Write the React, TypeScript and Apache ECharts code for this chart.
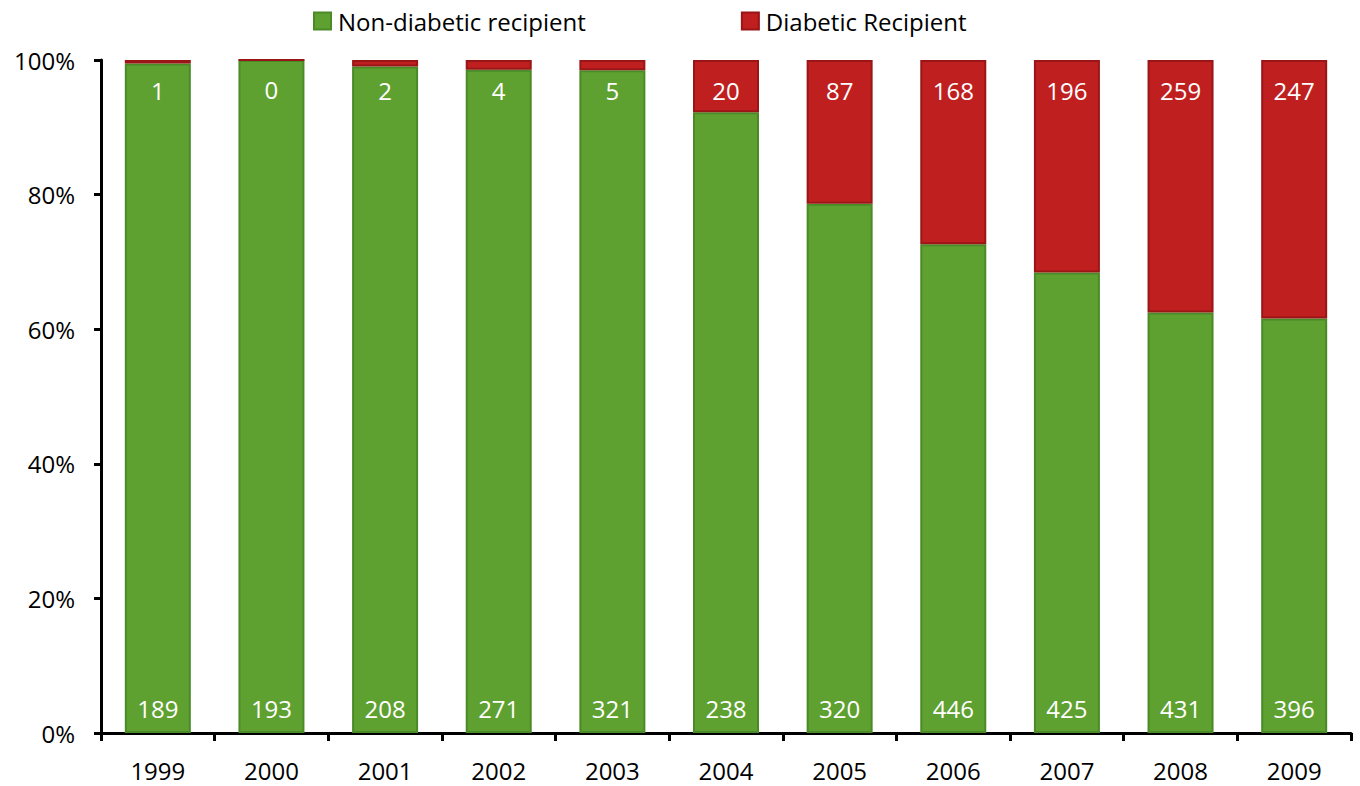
import React, { useEffect, useRef } from "react";
import * as echarts from "echarts";

const years = ["1999", "2000", "2001", "2002", "2003", "2004", "2005", "2006", "2007", "2008", "2009"];
const nonDiabetic = [189, 193, 208, 271, 321, 238, 320, 446, 425, 431, 396];
const diabetic = [1, 0, 2, 4, 5, 20, 87, 168, 196, 259, 247];
const yTicks = [0, 20, 40, 60, 80, 100];

const FONT = "'Open Sans', 'Noto Sans', sans-serif";

export default function App() {
  const ref = useRef<HTMLDivElement>(null);
  useEffect(() => {
    if (!ref.current) return;
    const chart = echarts.init(ref.current, undefined, { renderer: "svg" });
    const totals = years.map((_, i) => nonDiabetic[i] + diabetic[i]);
    const greenPct = nonDiabetic.map((v, i) => ({ value: (v / totals[i]) * 100, count: v }));
    const redPct = diabetic.map((v, i) => ({ value: (v / totals[i]) * 100, count: v }));
    chart.setOption({
      animation: false,
      textStyle: { fontFamily: FONT },
      legend: {
        top: 4,
        left: 308,
        itemWidth: 17,
        itemHeight: 17,
        itemGap: 155,
        icon: "rect",
        textStyle: { fontSize: 24, color: "#000", fontFamily: FONT, padding: [0, 0, 0, 2] },
        data: ["Non-diabetic recipient", "Diabetic Recipient"],
      },
      grid: { left: 101, right: 9, top: 60, bottom: 53, containLabel: false },
      xAxis: {
        type: "category",
        data: years,
        axisLine: { lineStyle: { color: "#000", width: 3 } },
        axisTick: { show: true, length: 8, lineStyle: { color: "#000", width: 3 } },
        axisLabel: { fontSize: 24, color: "#000", margin: 25, fontFamily: FONT },
      },
      yAxis: {
        type: "value",
        min: 0,
        max: 100,
        interval: 20,
        axisLine: { show: true, lineStyle: { color: "#000", width: 3 } },
        axisTick: { show: true, length: 7, lineStyle: { color: "#000", width: 3 } },
        splitLine: { show: false },
        axisLabel: {
          fontSize: 24,
          color: "#000",
          margin: 26,
          fontFamily: FONT,
          formatter: (v: number) => (yTicks.includes(v) ? v + "%" : ""),
        },
      },
      series: [
        {
          name: "Non-diabetic recipient",
          type: "bar",
          stack: "total",
          barWidth: 66,
          data: greenPct,
          itemStyle: { color: "#5FA131", borderColor: "#4A8A27", borderWidth: 2 },
          label: {
            show: true,
            position: "insideBottom",
            distance: 13,
            color: "#fff",
            fontSize: 24,
            fontFamily: FONT,
            formatter: (p: any) => String(p.data.count),
          },
        },
        {
          name: "Diabetic Recipient",
          type: "bar",
          stack: "total",
          barWidth: 66,
          data: redPct,
          itemStyle: { color: "#C01F20", borderColor: "#9A1516", borderWidth: 2 },
          label: {
            show: true,
            position: "insideTop",
            distance: 18,
            color: "#fff",
            fontSize: 24,
            fontFamily: FONT,
            formatter: (p: any) => String(p.data.count),
          },
        },
      ],
    });
    return () => chart.dispose();
  }, []);
  return (
    <div
      ref={ref}
      style={{ position: "fixed", left: 0, top: 0, width: 1360, height: 786, background: "#fff" }}
    />
  );
}
